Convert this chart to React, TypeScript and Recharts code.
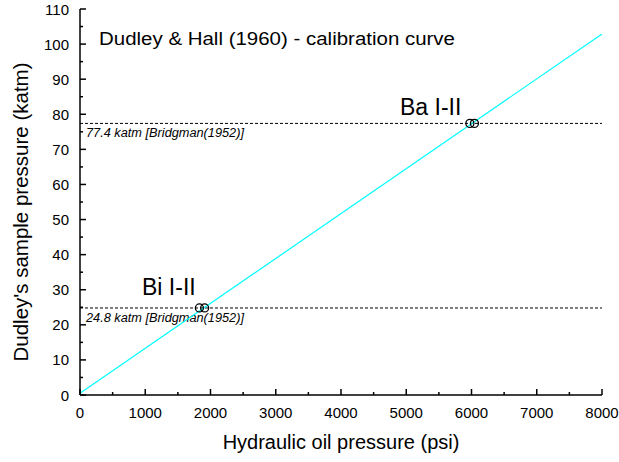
import { ComposedChart, Line, Scatter, XAxis, YAxis, ReferenceLine, Customized } from 'recharts';

const FONT = '"Liberation Sans", Arial, Helvetica, sans-serif';

// calibration line end points (psi, katm)
const calibration = [
  { x: 0, y: 0.5 },
  { x: 8000, y: 102.9 },
];

// measured transition points
const biPoints = [
  { x: 1830, y: 24.8 },
  { x: 1910, y: 24.8 },
];
const baPoints = [
  { x: 5975, y: 77.4 },
  { x: 6045, y: 77.4 },
];

const bridgmanLevels = [
  { y: 77.4, label: '77.4 katm [Bridgman(1952)]', dx: 6 },
  { y: 24.8, label: '24.8 katm [Bridgman(1952)]', dx: 6 },
];

const xTicks = [0, 500, 1000, 1500, 2000, 2500, 3000, 3500, 4000, 4500, 5000, 5500, 6000, 6500, 7000, 7500, 8000];
const yTicks = [0, 5, 10, 15, 20, 25, 30, 35, 40, 45, 50, 55, 60, 65, 70, 75, 80, 85, 90, 95, 100, 105, 110];

const W = 619;
const H = 462;

function makeXTick(side: 'top' | 'bottom') {
  return (props: any) => {
    const { x, y, payload } = props;
    const major = payload.value % 1000 === 0;
    const len = major ? 6 : 3;
    const dir = side === 'bottom' ? -1 : 1;
    return (
      <g>
        <line x1={x} x2={x} y1={y} y2={y + dir * len} stroke="#000" strokeWidth={1.5} />
        {side === 'bottom' && major && (
          <text x={x} y={y + 23} textAnchor="middle" fontSize={15} fontFamily={FONT} fill="#000">
            {payload.value}
          </text>
        )}
      </g>
    );
  };
}

function makeYTick(side: 'left' | 'right') {
  return (props: any) => {
    const { x, y, payload } = props;
    const major = payload.value % 10 === 0;
    const len = major ? 6 : 3;
    const dir = side === 'left' ? 1 : -1;
    return (
      <g>
        <line x1={x} x2={x + dir * len} y1={y} y2={y} stroke="#000" strokeWidth={1.5} />
        {side === 'left' && major && (
          <text x={x - 11} y={y + 5.5} textAnchor="end" fontSize={15} fontFamily={FONT} fill="#000">
            {payload.value}
          </text>
        )}
      </g>
    );
  };
}

const ring = (props: any) => (
  <circle cx={props.cx} cy={props.cy} r={4} fill="none" stroke="#000" strokeWidth={1.3} />
);

function Texts() {
  return (
    <g fontFamily={FONT} fill="#000">
      <text x={99} y={45} fontSize={17.5} textLength={356} lengthAdjust="spacingAndGlyphs">
        Dudley &amp; Hall (1960) - calibration curve
      </text>
      <text x={400} y={115} fontSize={23}>Ba I-II</text>
      <text x={142} y={295} fontSize={23}>Bi I-II</text>
      <text x={341} y={449} fontSize={20} textAnchor="middle">Hydraulic oil pressure (psi)</text>
      <text x={28} y={212} fontSize={20.5} textAnchor="middle" transform="rotate(-90 28 212)">
        Dudley's sample pressure (katm)
      </text>
    </g>
  );
}

export default function App() {
  return (
    <div style={{ position: 'absolute', left: 0, top: 0, background: '#fff' }}>
      <ComposedChart width={W} height={H} margin={{ top: 9, right: 17, bottom: 0, left: 0 }}>
        <XAxis
          xAxisId={0}
          type="number"
          dataKey="x"
          domain={[0, 8000]}
          ticks={xTicks}
          interval={0}
          height={67}
          tickSize={0}
          tickMargin={0}
          tickLine={false}
          tick={makeXTick('bottom')}
          axisLine={{ stroke: '#000', strokeWidth: 1.5 }}
        />
        <XAxis
          xAxisId="top"
          orientation="top"
          type="number"
          dataKey="x"
          domain={[0, 8000]}
          ticks={xTicks}
          interval={0}
          height={0}
          tickSize={0}
          tickMargin={0}
          tickLine={false}
          tick={makeXTick('top')}
          axisLine={{ stroke: '#000', strokeWidth: 1.5 }}
        />
        <YAxis
          yAxisId={0}
          type="number"
          domain={[0, 110]}
          ticks={yTicks}
          interval={0}
          width={80}
          tickSize={0}
          tickMargin={0}
          tickLine={false}
          tick={makeYTick('left')}
          axisLine={{ stroke: '#000', strokeWidth: 1.5 }}
        />
        <YAxis
          yAxisId="right"
          orientation="right"
          type="number"
          domain={[0, 110]}
          ticks={yTicks}
          interval={0}
          width={0}
          tickSize={0}
          tickMargin={0}
          tickLine={false}
          tick={makeYTick('right')}
          axisLine={{ stroke: '#000', strokeWidth: 1.5 }}
        />
        {bridgmanLevels.map((lvl) => (
          <ReferenceLine
            key={lvl.label}
            y={lvl.y}
            stroke="#000"
            strokeWidth={1}
            strokeDasharray="3 2"
            label={(p: any) => (
              <text
                x={p.viewBox.x + lvl.dx}
                y={p.viewBox.y + 14}
                fontSize={12}
                fontStyle="italic"
                fontFamily={FONT}
                fill="#000"
                textLength={158}
                lengthAdjust="spacingAndGlyphs"
              >
                {lvl.label}
              </text>
            )}
          />
        ))}
        <Line
          data={calibration}
          dataKey="y"
          stroke="#00FFFF"
          strokeWidth={1.2}
          dot={false}
          activeDot={false}
          isAnimationActive={false}
        />
        <Scatter data={biPoints} dataKey="y" shape={ring} isAnimationActive={false} />
        <Scatter data={baPoints} dataKey="y" shape={ring} isAnimationActive={false} />
        <Customized component={Texts} />
      </ComposedChart>
    </div>
  );
}
